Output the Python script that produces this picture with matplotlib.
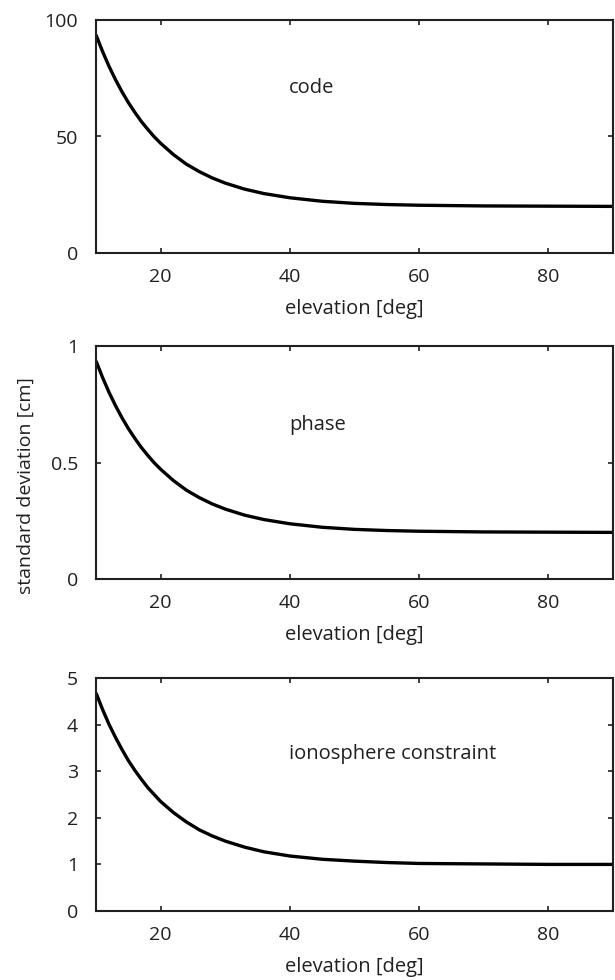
import matplotlib
matplotlib.use("Agg")
import matplotlib.pyplot as plt

elevation = [10, 11, 12, 13, 14, 15, 16, 17, 18, 19, 20, 22, 24, 26, 28, 30,
             33, 36, 40, 45, 50, 55, 60, 70, 80, 90]
code_std = [93.6, 86.6, 80.2, 74.5, 69.3, 64.6, 60.4, 56.5, 53.1, 49.9, 47.1,
            42.2, 38.1, 34.9, 32.2, 30.0, 27.4, 25.5, 23.7, 22.2, 21.3, 20.8,
            20.5, 20.2, 20.1, 20.0]
phase_std = [0.936, 0.866, 0.802, 0.745, 0.693, 0.646, 0.604, 0.565, 0.531,
             0.499, 0.471, 0.422, 0.381, 0.349, 0.322, 0.300, 0.274, 0.255,
             0.237, 0.222, 0.213, 0.208, 0.205, 0.202, 0.201, 0.200]
iono_std = [4.68, 4.33, 4.01, 3.73, 3.47, 3.23, 3.02, 2.83, 2.65, 2.50, 2.35,
            2.11, 1.91, 1.74, 1.61, 1.50, 1.37, 1.27, 1.18, 1.11, 1.07, 1.04,
            1.02, 1.01, 1.00, 1.00]

panel_labels = ["code", "phase", "ionosphere constraint"]
xticks = [20, 40, 60, 80]
yticks_list = [[0, 50, 100], [0, 0.5, 1], [0, 1, 2, 3, 4, 5]]
yticklabels_list = [["0", "50", "100"], ["0", "0.5", "1"], ["0", "1", "2", "3", "4", "5"]]
ylims = [(0, 100), (0, 1), (0, 5)]
label_pos = [(39.9, 70.8), (39.9, 0.661), (39.9, 3.37)]

plt.rcParams['font.family'] = ['Open Sans', 'DejaVu Sans']
fig = plt.figure(figsize=(6.15, 9.8), dpi=100)
W, H = 615, 980
left, right = 96, 613
tops = [20, 346, 678]
height = 233
series = [code_std, phase_std, iono_std]
col = "#231f20"
fs = 14
for i in range(3):
    ax = fig.add_axes([left / W, 1 - (tops[i] + height) / H, (right - left) / W, height / H])
    ax.plot(elevation, series[i], color="black", lw=2.4, solid_capstyle="butt")
    ax.set_xlim(10, 90)
    ax.set_ylim(*ylims[i])
    ax.set_xticks(xticks)
    ax.set_xticklabels([str(t) for t in xticks])
    ax.set_yticks(yticks_list[i])
    ax.set_yticklabels(yticklabels_list[i])
    ax.tick_params(direction="in", top=True, right=True, length=3.5, width=1.2,
                   labelsize=fs, colors=col)
    ax.tick_params(axis="x", pad=11)
    ax.tick_params(axis="y", pad=13)
    for s in ax.spines.values():
        s.set_linewidth(1.5)
        s.set_color(col)
    ax.set_xlabel("elevation [deg]", fontsize=fs + 0.5, color=col, labelpad=9)
    ax.text(label_pos[i][0], label_pos[i][1], panel_labels[i], fontsize=fs + 0.5,
            color=col, va="center", ha="left")

fig.text(26 / W, 1 - 377 / H, "standard deviation [cm]", rotation=90,
         fontsize=fs, color=col, ha="center", va="top")

fig.savefig("out.png", dpi=100)
